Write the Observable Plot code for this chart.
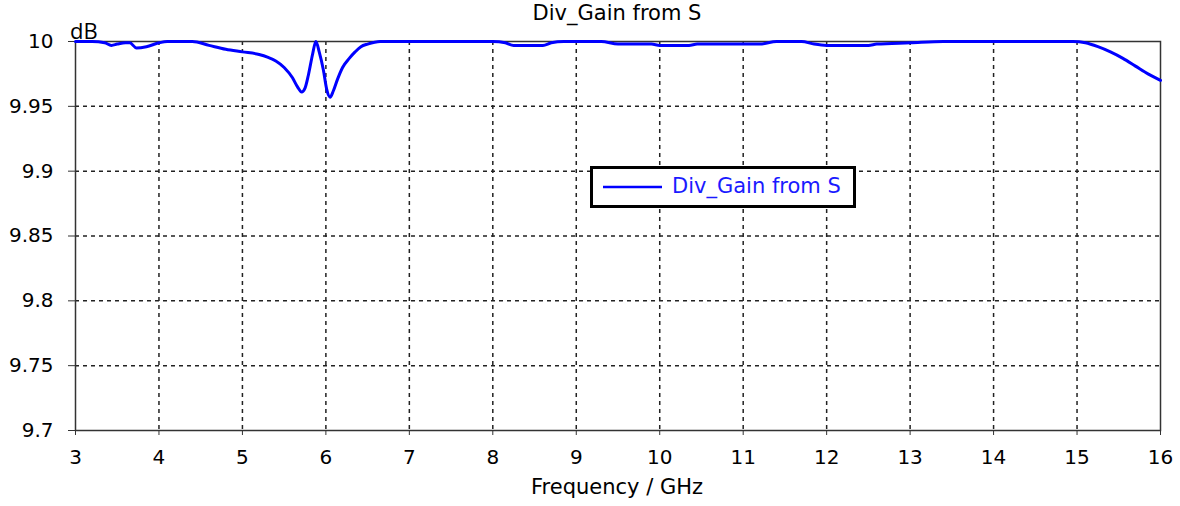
<!DOCTYPE html>
<html>
<head>
<meta charset="utf-8">
<script src="https://cdn.jsdelivr.net/npm/d3@7"></script>
<script src="https://cdn.jsdelivr.net/npm/@observablehq/plot@0.6"></script>
<style>
  html, body { margin: 0; padding: 0; background: #fff; }
  #wrap { position: relative; width: 1180px; height: 506px; font-family: "DejaVu Sans", sans-serif; }
  #wrap svg { position: absolute; left: 0; top: 0; }
  .lbl { position: absolute; white-space: nowrap; color: #000; }
</style>
</head>
<body>
<div id="wrap"></div>
<script>
// ---- data ----
const chartTitle = "Div_Gain from S";
const xLabel = "Frequency / GHz";
const yUnit = "dB";
const seriesName = "Div_Gain from S";

const xTicks = [3, 4, 5, 6, 7, 8, 9, 10, 11, 12, 13, 14, 15, 16];
const yTicks = [9.7, 9.75, 9.8, 9.85, 9.9, 9.95, 10];
const yTickLabels = ["9.7", "9.75", "9.8", "9.85", "9.9", "9.95", "10"];

const freq = [3.0, 3.2, 3.35, 3.43, 3.5, 3.6, 3.65, 3.73, 3.85, 4.0, 4.1, 4.4, 4.6, 4.8, 5.0, 5.2, 5.3, 5.4, 5.5, 5.6, 5.66, 5.71, 5.75, 5.79, 5.84, 5.88, 5.92, 5.97, 6.01, 6.05, 6.09, 6.14, 6.2, 6.28, 6.35, 6.42, 6.5, 6.65, 7.0, 7.5, 8.0, 8.15, 8.25, 8.6, 8.7, 8.85, 9.3, 9.5, 9.9, 10.0, 10.35, 10.45, 10.8, 11.2, 11.4, 11.7, 11.85, 12.0, 12.5, 12.6, 13.0, 13.4, 14.95, 15.1, 15.25, 15.4, 15.55, 15.7, 15.85, 16.0];
const gain = [10.000, 10.000, 9.999, 9.997, 9.998, 9.999, 9.999, 9.995, 9.996, 9.999, 10.000, 10.000, 9.997, 9.994, 9.992, 9.990, 9.988, 9.985, 9.980, 9.972, 9.965, 9.961, 9.964, 9.974, 9.990, 10.000, 9.992, 9.978, 9.963, 9.957, 9.962, 9.971, 9.980, 9.987, 9.992, 9.996, 9.998, 10.000, 10.000, 10.000, 10.000, 9.999, 9.997, 9.997, 9.999, 10.000, 10.000, 9.998, 9.998, 9.997, 9.997, 9.998, 9.998, 9.998, 10.000, 10.000, 9.998, 9.997, 9.997, 9.998, 9.999, 10.000, 10.000, 9.999, 9.996, 9.992, 9.987, 9.981, 9.975, 9.970];

const data = freq.map((f, i) => ({ f, g: gain[i] }));
const gridX = xTicks.slice(1, -1);
const gridY = yTicks.slice(1, -1);

const chart = Plot.plot({
  width: 1180,
  height: 506,
  marginLeft: 75,
  marginRight: 20,
  marginTop: 41,
  marginBottom: 76,
  style: { fontFamily: "DejaVu Sans, sans-serif", fontSize: "20px", color: "#000", background: "#fff" },
  x: { domain: [3, 16], label: null },
  y: { domain: [9.7, 10], label: null },
  marks: [
    Plot.ruleX(gridX, { stroke: "#222", strokeWidth: 1.5, strokeDasharray: "4,4" }),
    Plot.ruleY(gridY, { stroke: "#222", strokeWidth: 1.5, strokeDasharray: "4,4" }),
    Plot.frame({ stroke: "#333", strokeWidth: 1.5 }),
    Plot.axisX({ ticks: xTicks, tickSize: 5, tickPadding: 14, stroke: "#333", fontSize: 20, label: null }),
    Plot.axisY({ ticks: yTicks, tickFormat: (d) => yTickLabels[yTicks.indexOf(d)], tickSize: 7, tickPadding: 15, stroke: "#333", fontSize: 20, label: null }),
    Plot.line(data, { x: "f", y: "g", stroke: "#0000ff", strokeWidth: 3, curve: "monotone-x" })
  ]
});

const wrap = document.getElementById("wrap");
wrap.appendChild(chart);

function addLabel(text, css) {
  const d = document.createElement("div");
  d.className = "lbl";
  d.textContent = text;
  Object.assign(d.style, css);
  wrap.appendChild(d);
  return d;
}

// title
addLabel(chartTitle, { left: "0px", width: "1234px", textAlign: "center", top: "1px", fontSize: "21px" });
// unit
addLabel(yUnit, { left: "70px", top: "15px", fontSize: "22px", fontFamily: "'Open Sans', sans-serif" });
// x label
addLabel(xLabel, { left: "0px", width: "1234px", textAlign: "center", top: "475px", fontSize: "21px" });

// legend
const leg = document.createElement("div");
Object.assign(leg.style, {
  position: "absolute", left: "590px", top: "166px", width: "260px", height: "36px",
  border: "3px solid #000", background: "#fff", boxSizing: "content-box"
});
leg.innerHTML = `<svg width="70" height="36" style="position:absolute;left:0;top:0">
  <line x1="10" x2="69" y1="18" y2="18" stroke="#0000ff" stroke-width="2.5"></line></svg>`;
const lt = document.createElement("div");
lt.textContent = seriesName;
Object.assign(lt.style, { position: "absolute", left: "79px", top: "5px", fontSize: "21px", color: "#1a1aff", whiteSpace: "nowrap" });
leg.appendChild(lt);
wrap.appendChild(leg);
</script>
</body>
</html>
